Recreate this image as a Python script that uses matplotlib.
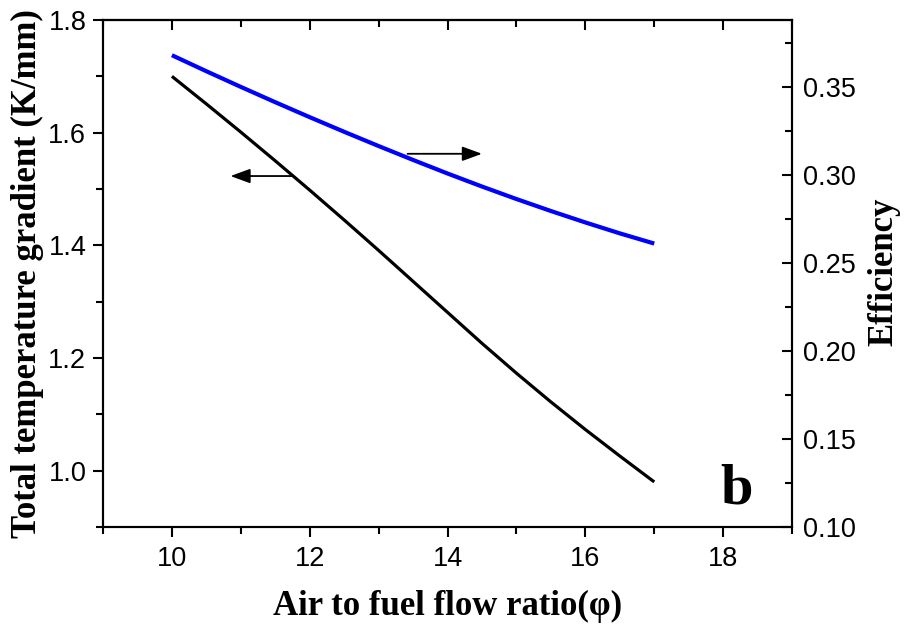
import matplotlib.pyplot as plt
from matplotlib.ticker import MultipleLocator

# air to fuel flow ratio
phi = [10, 10.5, 11, 11.5, 12, 12.5, 13, 13.5, 14, 14.5, 15, 15.5, 16, 16.5, 17]
# total temperature gradient (K/mm), left axis
grad = [1.700, 1.651, 1.601, 1.550, 1.498, 1.445, 1.391, 1.336, 1.281,
        1.226, 1.173, 1.122, 1.073, 1.026, 0.980]
# efficiency, right axis
eff = [0.368, 0.3589, 0.3500, 0.3413, 0.3328, 0.3245, 0.3164, 0.3085,
       0.3008, 0.2934, 0.2863, 0.2795, 0.2730, 0.2668, 0.2610]

serif = "Liberation Serif"
sans = "Liberation Sans"


def main():
    fig = plt.figure(figsize=(9.05, 6.29), dpi=100)
    ax = fig.add_axes([0.1138, 0.1622, 0.7614, 0.8060])
    ax2 = ax.twinx()

    ax.plot(phi, grad, color="black", lw=2.3, solid_capstyle="butt")
    ax2.plot(phi, eff, color="#0000ff", lw=3.0, solid_capstyle="butt")

    ax.set_xlim(9, 19)
    ax.set_ylim(0.9, 1.8)
    ax2.set_ylim(0.1, 0.388)

    ax.xaxis.set_major_locator(MultipleLocator(2))
    ax.xaxis.set_minor_locator(MultipleLocator(1))
    ax.yaxis.set_major_locator(MultipleLocator(0.2))
    ax.yaxis.set_minor_locator(MultipleLocator(0.1))
    ax2.yaxis.set_major_locator(MultipleLocator(0.05))
    ax2.yaxis.set_minor_locator(MultipleLocator(0.025))
    ax.yaxis.set_major_formatter(plt.FormatStrFormatter("%.1f"))
    ax2.yaxis.set_major_formatter(plt.FormatStrFormatter("%.2f"))

    ax.tick_params(axis="x", which="both", direction="out", top=False, pad=7,
                   labelsize=19.5, width=1.5)
    ax.tick_params(axis="x", which="major", length=7)
    ax.tick_params(axis="x", which="minor", length=5)
    ax.tick_params(axis="y", which="both", direction="out", pad=5,
                   labelsize=19.5, width=1.5)
    ax.tick_params(axis="y", which="major", length=7)
    ax.tick_params(axis="y", which="minor", length=5)
    ax2.tick_params(axis="y", which="both", direction="in", pad=8,
                    labelsize=19.5, width=1.5)
    ax2.tick_params(axis="y", which="major", length=7)
    ax2.tick_params(axis="y", which="minor", length=5)

    # inward ticks along the top spine
    top = ax.secondary_xaxis("top")
    top.xaxis.set_major_locator(MultipleLocator(2))
    top.xaxis.set_minor_locator(MultipleLocator(1))
    top.tick_params(which="both", direction="in", labeltop=False, width=1.5)
    top.tick_params(which="major", length=7)
    top.tick_params(which="minor", length=5)
    top.spines["top"].set_linewidth(1.5)

    for a in (ax, ax2):
        for s in a.spines.values():
            s.set_linewidth(1.5)
        for lab in a.get_xticklabels() + a.get_yticklabels():
            lab.set_fontfamily(sans)

    ax.set_xlabel("Air to fuel flow ratio(\u03c6)", fontfamily=serif,
                  fontweight="bold", fontsize=25)
    ax.xaxis.set_label_coords(0.5, -0.125)
    ax.set_ylabel("Total temperature gradient (K/mm)", fontfamily=serif,
                  fontweight="bold", fontsize=25)
    ax.yaxis.set_label_coords(-0.086, 0.5)
    ax2.set_ylabel("Efficiency", fontfamily=serif, fontweight="bold",
                   fontsize=25)
    ax2.yaxis.set_label_coords(1.11, 0.503)

    # arrows pointing to each curve's axis
    arrow = dict(arrowstyle="-|>,head_length=0.6,head_width=0.22",
                 color="black", lw=1.3, mutation_scale=20, shrinkA=0, shrinkB=0)
    ax.annotate("", xy=(10.85, 1.523), xytext=(11.75, 1.523), arrowprops=arrow)
    ax2.annotate("", xy=(14.5, 0.312), xytext=(13.42, 0.312), arrowprops=arrow)

    ax.text(0.92, 0.047, "b", transform=ax.transAxes, ha="center",
            va="baseline", fontfamily=serif, fontweight="bold", fontsize=42)

    fig.savefig("out.png", dpi=100, facecolor="white")


if __name__ == "__main__":
    main()
